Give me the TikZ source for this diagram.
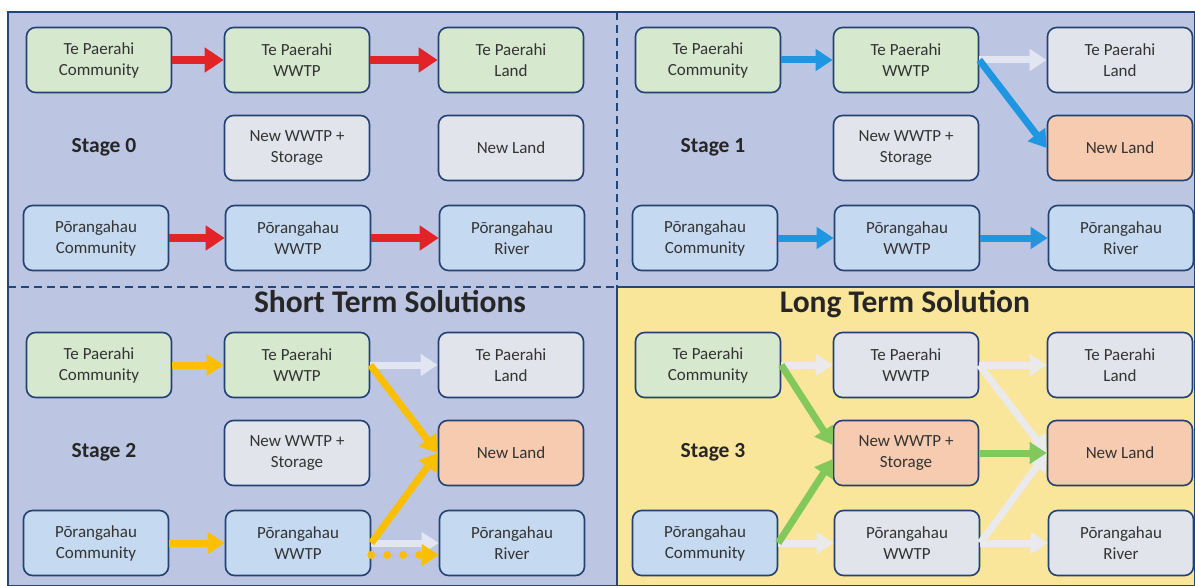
\documentclass[tikz,border=0pt]{standalone}
\usepackage{fontspec}
\setmainfont{Carlito}
\usetikzlibrary{arrows.meta}

\definecolor{panelblue}{RGB}{188,198,226}
\definecolor{panelyellow}{RGB}{250,230,155}
\definecolor{frameline}{RGB}{35,70,120}
\definecolor{boxline}{RGB}{35,65,115}
\definecolor{boxgreen}{RGB}{214,232,206}
\definecolor{boxblue}{RGB}{197,217,240}
\definecolor{boxgrey}{RGB}{226,228,236}
\definecolor{boxorange}{RGB}{246,203,176}
\definecolor{flowred}{RGB}{226,35,40}
\definecolor{flowblue}{RGB}{30,150,225}
\definecolor{flowgold}{RGB}{250,192,0}
\definecolor{flowgreen}{RGB}{130,200,90}
\definecolor{flowfade}{RGB}{226,230,242}
\definecolor{flowfadey}{RGB}{234,234,236}

\tikzset{
  box/.style={draw=boxline, line width=1.6pt, rounded corners=9pt, minimum width=145pt,
    minimum height=65pt, align=center, inner sep=0pt, text=black!80,
    font=\fontsize{17}{21}\selectfont},
  stagelabel/.style={text=black!85, font=\bfseries\fontsize{21.5}{24}\selectfont},
  paneltitle/.style={text=black!85, font=\bfseries\fontsize{31.5}{34}\selectfont},
  flow/.style={line width=7pt, -{Triangle[length=17pt,width=21pt]}},
  redflow/.style={flow, draw=flowred, fill=flowred, line width=8.5pt, -{Triangle[length=19pt,width=24pt]}},
  blueflow/.style={flow, draw=flowblue, fill=flowblue},
  goldflow/.style={flow, draw=flowgold, fill=flowgold},
  greenflow/.style={flow, draw=flowgreen, fill=flowgreen},
  fadeflow/.style={flow, draw=flowfade, fill=flowfade},
  fadeflowy/.style={flow, draw=flowfadey, fill=flowfadey},
}

\begin{document}
\begin{tikzpicture}[x=1pt,y=-1pt]
  \useasboundingbox (0,0) rectangle (1195,586);

  % panels
  \fill[panelblue] (8,12) rectangle (1195,586);
  \fill[panelyellow] (617,287) rectangle (1195,586);
  \draw[frameline, line width=1.4pt] (8,12) rectangle (1194.3,585.3);
  \draw[frameline, line width=1.4pt, dashed, dash pattern=on 8pt off 5pt] (8,287) -- (617,287);
  \draw[frameline, line width=1.4pt, dashed, dash pattern=on 8pt off 5pt] (617,12) -- (617,287);
  \draw[frameline, line width=1.4pt] (617,287) -- (1195,287);
  \draw[frameline, line width=1.4pt] (617,287) -- (617,586);

  \node[paneltitle] (short) at (390,302) {Short Term Solutions};
  \node[paneltitle] (long) at (905,304) {Long Term Solution};

  % the nine boxes of every stage
  \foreach \s/\dx/\dy/\ftpw/\ftpl/\fnw/\fnl/\fpw/\fpr in {
    0/0/0/boxgreen/boxgreen/boxgrey/boxgrey/boxblue/boxblue,
    1/609/0/boxgreen/boxgrey/boxgrey/boxorange/boxblue/boxblue,
    2/0/305/boxgreen/boxgrey/boxgrey/boxorange/boxblue/boxblue,
    3/609/305/boxgrey/boxgrey/boxorange/boxorange/boxgrey/boxgrey}{
    \begin{scope}[shift={(\dx,\dy)}]
      \node[box, fill=boxgreen] (tpc\s) at (99,60) {Te Paerahi\\Community};
      \node[box, fill=\ftpw] (tpw\s) at (297,60) {Te Paerahi\\WWTP};
      \node[box, fill=\ftpl] (tpl\s) at (511,60) {Te Paerahi\\Land};
      \node[stagelabel] (stage\s) at (104,147) {Stage \s};
      \node[box, fill=\fnw] (nw\s) at (297,148) {New WWTP +\\Storage};
      \node[box, fill=\fnl] (nl\s) at (511,148) {New Land};
      \node[box, fill=boxblue] (pc\s) at (96,238) {Pōrangahau\\Community};
      \node[box, fill=\fpw] (pw\s) at (298,238) {Pōrangahau\\WWTP};
      \node[box, fill=\fpr] (pr\s) at (512,238) {Pōrangahau\\River};
    \end{scope}
  }

  % Stage 0
  \draw[redflow] (tpc0) -- (tpw0);
  \draw[redflow] (tpw0) -- (tpl0);
  \draw[redflow] (pc0) -- (pw0);
  \draw[redflow] (pw0) -- (pr0);

  % Stage 1
  \draw[fadeflow] (tpw1) -- (tpl1);
  \draw[blueflow] (tpc1) -- (tpw1);
  \draw[blueflow] (tpw1.east) -- (nl1.west);
  \draw[blueflow] (pc1) -- (pw1);
  \draw[blueflow] (pw1) -- (pr1);

  % Stage 2
  \draw[fadeflow] (tpw2) -- (tpl2);
  \draw[fadeflow] (pw2) -- (pr2);
  \draw[goldflow] (tpc2) -- (tpw2);
  \draw[goldflow] (tpw2.east) -- (nl2.west);
  \draw[goldflow] (pc2) -- (pw2);
  \draw[goldflow] (pw2.east) -- (nl2.west);
  \draw[goldflow, line width=8pt, line cap=round, dash pattern=on 0pt off 16pt]
    ([yshift=-12pt]pw2.east) -- ([yshift=-12pt]pr2.west);

  % Stage 3
  \draw[fadeflowy] (tpc3) -- (tpw3);
  \draw[fadeflowy] (pc3) -- (pw3);
  \draw[fadeflowy] (tpw3) -- (tpl3);
  \draw[fadeflowy] (tpw3.east) -- (nl3.west);
  \draw[fadeflowy] (pw3.east) -- (nl3.west);
  \draw[fadeflowy] (pw3) -- (pr3);
  \draw[greenflow] (tpc3.east) -- ([yshift=8pt]nw3.west);
  \draw[greenflow] (pc3.east) -- ([yshift=-6pt]nw3.west);
  \draw[greenflow] (nw3) -- (nl3);
\end{tikzpicture}
\end{document}
